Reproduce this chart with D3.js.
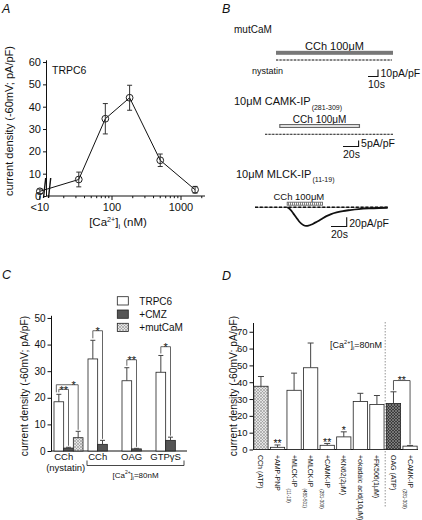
<!DOCTYPE html>
<html><head><meta charset="utf-8">
<script src="https://cdn.jsdelivr.net/npm/d3@7/dist/d3.min.js"></script>
<style>
html,body{margin:0;padding:0;background:#fff;}
svg{display:block;}
text{font-family:"Liberation Sans",Arial,Helvetica,sans-serif;fill:#111;}
</style></head><body>
<svg id="fig" width="422" height="520" viewBox="0 0 422 520"></svg>
<script>
// ================= DATA =================
// Panel A : current density vs [Ca2+]i
const caTickValues = [9, 100, 1000];
const caTickLabels = ["<10", "100", "1000"];
const caConc    = [9, 33, 80, 180, 500, 1600];
const caCurrent = [2.1, 7.4, 34.6, 44.0, 16.0, 2.8];
const caSEM     = [1.0, 3.3, 6.8, 5.6, 2.8, 1.5];
const aYTicks   = [0, 10, 20, 30, 40, 50, 60];

// Panel B : example traces (time in s, current in pA/pF)
const mutCaMTime = [0, 116];
const mutCaMCurrent = [0, 0];
const mutCaMCCh = [0, 117];
const camkTime = [0, 164];
const camkCurrent = [0, 0];
const camkCCh = [19, 121];
const mlckBaselineTime = [0, 169];
const mlckTime = [41,44,47,50,53,56,59,62,65,68,72,76,80,85,91,97,104,112,121,132,145,158,169];
const mlckCurrent = [0,-3,-9,-16,-23,-30,-35,-38.5,-40,-39.5,-37,-33.5,-30,-25,-19,-14.5,-11,-8,-6,-4,-2.5,-1.5,-1];
const mlckCCh = [41, 86];

// Panel C
const cGroups = ["CCh", "CCh", "OAG", "GTPγS"];
const cSeries = ["TRPC6", "+CMZ", "+mutCaM"];
const cTRPC6    = [18.5, 34.6, 26.4, 29.6];
const cTRPC6Err = [2.8, 7.0, 4.9, 6.3];
const cCMZ      = [1.1, 2.5, 0.8, 4.0];
const cCMZErr   = [0.3, 1.5, 0.2, 1.2];
const cMutCaM   = [5.0, null, null, null];
const cMutCaMErr= [2.4, null, null, null];
const cYTicks   = [0, 10, 20, 30, 40, 50];
const cSigGroup = [0, 0, 1, 2, 3];
const cSigFrom  = [0, 0, 0, 0, 0];
const cSigTo    = [1, 2, 1, 1, 1];
const cSigLabel = ["**", "*", "*", "**", "*"];
const cSigLevel = [23.2, 24.9, 45.2, 34.3, 39.2];

// Panel D
const dLabels = ["CCh (ATP)","+AMP-PNP","+MLCK-IP","+MLCK-IP","+CAMK-IP","+KN62(2μM)","+okadaic acid(10μM)","+FK506(1μM)","OAG (ATP)","+CAMK-IP"];
const dSubs   = ["","","(11-19)","(480-501)","(281-309)","","","","","(281-309)"];
const dValues = [37.6, 1.3, 35.2, 48.6, 2.5, 7.5, 28.5, 26.8, 27.4, 2.0];
const dErr    = [5.8, 1.4, 10.2, 14.7, 1.1, 3.0, 4.9, 5.3, 6.9, 0.4];
const dStars  = ["", "**", "", "", "**", "*", "", "", "", ""];
const dYTicks = [0, 10, 20, 30, 40, 50, 60, 70];
const dSigFrom = [8], dSigTo = [9], dSigLabel = ["**"], dSigLevel = [41];

// ================= DRAW =================
const FF = '"Liberation Sans", Arial, Helvetica, sans-serif';
const svg = d3.select("#fig");
const defs = svg.append("defs");
function crossHatch(id, bg, fg, s, w) {
  const p = defs.append("pattern").attr("id", id).attr("patternUnits", "userSpaceOnUse")
    .attr("width", s).attr("height", s);
  p.append("rect").attr("width", s).attr("height", s).attr("fill", bg);
  p.append("path").attr("d", `M0,${s} L${s},0 M${-s/2},${s/2} L${s/2},${-s/2} M${s/2},${s*1.5} L${s*1.5},${s/2}`)
    .attr("stroke", fg).attr("stroke-width", w);
  p.append("path").attr("d", `M0,0 L${s},${s} M${-s/2},${s/2} L${s/2},${s*1.5} M${s/2},${-s/2} L${s*1.5},${s/2}`)
    .attr("stroke", fg).attr("stroke-width", w);
}
crossHatch("hLight", "#e4e4e4", "#8c8c8c", 3, 0.55);
crossHatch("hDark", "#3c3c3c", "#a0a0a0", 3, 0.55);
const vp = defs.append("pattern").attr("id", "vHatch").attr("patternUnits", "userSpaceOnUse").attr("width", 2).attr("height", 4);
vp.append("rect").attr("width", 2).attr("height", 4).attr("fill", "#fff");
vp.append("line").attr("x1", 0.5).attr("x2", 0.5).attr("y1", 0).attr("y2", 4).attr("stroke", "#777").attr("stroke-width", 0.9);

function panelLetter(t, x, y) {
  svg.append("text").attr("x", x).attr("y", y).attr("font-size", 12.5).attr("font-style", "italic").text(t);
}
panelLetter("A", 2, 13); panelLetter("B", 222, 13); panelLetter("C", 2, 279); panelLetter("D", 222, 280);

function styleAxis(g, fs) {
  g.attr("font-family", FF).attr("font-size", fs);
  g.selectAll("path,line").attr("stroke", "#111").attr("stroke-width", 1);
  g.selectAll("text").attr("fill", "#111");
}
function caLabel(parent, x, y, fs, suffix) {
  const t = parent.append("text").attr("x", x).attr("y", y).attr("font-size", fs).attr("text-anchor", "middle");
  t.append("tspan").text("[Ca");
  t.append("tspan").attr("dy", -fs * 0.38).attr("font-size", fs * 0.62).text("2+");
  t.append("tspan").attr("dy", fs * 0.38).text("]");
  t.append("tspan").attr("dy", fs * 0.25).attr("font-size", fs * 0.62).text("i");
  t.append("tspan").attr("dy", -fs * 0.25).text(suffix);
  return t;
}
function yTitle(parent, x, y, fs) {
  parent.append("text").attr("transform", `translate(${x},${y}) rotate(-90)`)
    .attr("text-anchor", "middle").attr("dy", "0.35em").attr("font-size", fs)
    .text("current density (-60mV; pA/pF)");
}

// ---------- Panel A ----------
const gA = svg.append("g");
const xA = d3.scaleLog().domain([100, 1000]).range([112, 181]);
const yA = d3.scaleLinear().domain([0, 61]).range([196, 59.8]);
gA.append("g").attr("transform", "translate(46,0)")
  .call(d3.axisLeft(yA).tickValues(aYTicks).tickSize(3).tickPadding(2).tickSizeOuter(0))
  .call(styleAxis, 11);
const y0A = yA(0);
gA.append("line").attr("x1", 46).attr("x2", 205).attr("y1", y0A).attr("y2", y0A).attr("stroke", "#111");
const minorA = d3.scaleLog().domain([20, 2000]).ticks().filter(v => !caTickValues.includes(v));
gA.selectAll(".mn").data(minorA).join("line")
  .attr("x1", d => xA(d)).attr("x2", d => xA(d)).attr("y1", y0A).attr("y2", y0A + 2.2).attr("stroke", "#111");
gA.selectAll(".mj").data(caTickValues).join("line")
  .attr("x1", d => xA(d)).attr("x2", d => xA(d)).attr("y1", y0A).attr("y2", y0A + 4).attr("stroke", "#111");
gA.selectAll(".xl").data(caTickValues).join("text")
  .attr("x", d => xA(d)).attr("y", y0A + 14.5).attr("text-anchor", "middle").attr("font-size", 11)
  .text((d, i) => caTickLabels[i]);
// axis break marks
[43.5, 48.5].forEach(bx => gA.append("line").attr("x1", bx).attr("y1", 198).attr("x2", bx + 2.2).attr("y2", 178)
  .attr("stroke", "#111").attr("stroke-width", 1.4));
caLabel(gA, 118, 226, 11.5, " (nM)");
yTitle(gA, 9, 121, 11);
gA.append("text").attr("x", 52).attr("y", 74).attr("font-size", 10.5).text("TRPC6");
const ptsA = caConc.map((c, i) => ({ c, v: caCurrent[i], s: caSEM[i] }));
gA.append("path").datum(ptsA).attr("fill", "none").attr("stroke", "#111").attr("stroke-width", 1)
  .attr("d", d3.line().x(d => xA(d.c)).y(d => yA(d.v)));
const eA = gA.selectAll(".eb").data(ptsA).join("g");
eA.append("line").attr("x1", d => xA(d.c)).attr("x2", d => xA(d.c)).attr("y1", d => yA(d.v - d.s)).attr("y2", d => yA(d.v + d.s)).attr("stroke", "#333");
eA.append("line").attr("x1", d => xA(d.c) - 2.5).attr("x2", d => xA(d.c) + 2.5).attr("y1", d => yA(d.v + d.s)).attr("y2", d => yA(d.v + d.s)).attr("stroke", "#333");
eA.append("line").attr("x1", d => xA(d.c) - 2.5).attr("x2", d => xA(d.c) + 2.5).attr("y1", d => yA(d.v - d.s)).attr("y2", d => yA(d.v - d.s)).attr("stroke", "#333");
eA.append("circle").attr("cx", d => xA(d.c)).attr("cy", d => yA(d.v)).attr("r", 3.4)
  .attr("fill", "none").attr("stroke", "#222").attr("stroke-width", 1);

// ---------- Panel B ----------
const gB = svg.append("g");
function scaleBar(g, x, y, w, h, vLabel, hLabel) {
  g.append("path").attr("d", `M${x},${y} L${x + w},${y} L${x + w},${y - h}`).attr("fill", "none").attr("stroke", "#111").attr("stroke-width", 1.1);
  g.append("text").attr("x", x + w + 2.5).attr("y", y + 0.5).attr("font-size", 10.5).text(vLabel);
  g.append("text").attr("x", x).attr("y", y + 11.5).attr("font-size", 10.5).text(hLabel);
}
function cchText(g, x, y, fs) {
  g.append("text").attr("x", x).attr("y", y).attr("font-size", fs).attr("text-anchor", "middle").text("CCh 100μM");
}
function baselineTrace(g, xs, ys, tArr, iArr, dark) {
  const pts = tArr.map((t, i) => [xs(t), ys(iArr[i])]);
  g.append("path").attr("d", d3.line()(pts)).attr("fill", "none").attr("stroke", dark ? "#777" : "#aaa").attr("stroke-width", 1);
  g.append("path").attr("d", d3.line()(pts)).attr("fill", "none").attr("stroke", dark ? "#111" : "#333")
    .attr("stroke-width", dark ? 1.4 : 1).attr("stroke-dasharray", dark ? "3,1.8" : "2,1.6");
}
// B1 mutCaM
const xB1 = d3.scaleLinear().domain([0, 116]).range([276, 392]);
const yB1 = d3.scaleLinear().domain([0, 10]).range([60, 53]);
gB.append("text").attr("x", 234).attr("y", 33).attr("font-size", 10).text("mutCaM");
cchText(gB, d3.mean(mutCaMCCh.map(xB1)), 50, 11);
gB.append("rect").attr("x", xB1(mutCaMCCh[0])).attr("width", xB1(mutCaMCCh[1]) - xB1(mutCaMCCh[0]))
  .attr("y", 50.8).attr("height", 4).attr("fill", "#777");
baselineTrace(gB, xB1, yB1, mutCaMTime, mutCaMCurrent, false);
gB.append("text").attr("x", 252).attr("y", 74).attr("font-size", 9).text("nystatin");
scaleBar(gB, 368, 76.5, xB1(10) - xB1(0), yB1(0) - yB1(10), "10pA/pF", "10s");

// B2 CAMK-IP
const xB2 = d3.scaleLinear().domain([0, 164]).range([265, 393]);
const yB2 = d3.scaleLinear().domain([0, 5]).range([134.3, 128.3]);
const tB2 = gB.append("text").attr("x", 234).attr("y", 105).attr("font-size", 11);
tB2.append("tspan").text("10μM CAMK-IP");
tB2.append("tspan").attr("dy", 4.5).attr("dx", 1).attr("font-size", 7).text("(281-309)");
cchText(gB, d3.mean(camkCCh.map(xB2)), 122.5, 10);
gB.append("rect").attr("x", xB2(camkCCh[0])).attr("width", xB2(camkCCh[1]) - xB2(camkCCh[0]))
  .attr("y", 124.6).attr("height", 2.8).attr("fill", "#fff").attr("stroke", "#666").attr("stroke-width", 1.2);
baselineTrace(gB, xB2, yB2, camkTime, camkCurrent, false);
scaleBar(gB, 343, 146.5, xB2(20) - xB2(0), yB2(0) - yB2(5), "5pA/pF", "20s");

// B3 MLCK-IP
const xB3 = d3.scaleLinear().domain([0, 169]).range([255, 387.7]);
const yB3 = d3.scaleLinear().domain([0, -40]).range([207.3, 225.9]);
const tB3 = gB.append("text").attr("x", 236).attr("y", 177.5).attr("font-size", 11);
tB3.append("tspan").text("10μM MLCK-IP");
tB3.append("tspan").attr("dy", 4.5).attr("dx", 1).attr("font-size", 7).text("(11-19)");
cchText(gB, d3.mean(mlckCCh.map(xB3)) - 6, 200, 9.5);
gB.append("rect").attr("x", xB3(mlckCCh[0])).attr("width", xB3(mlckCCh[1]) - xB3(mlckCCh[0]))
  .attr("y", 202.2).attr("height", 3).attr("fill", "url(#vHatch)").attr("stroke", "#666").attr("stroke-width", 0.9);
baselineTrace(gB, xB3, yB3, mlckBaselineTime, [0, 0], true);
gB.append("path").datum(mlckTime.map((t, i) => [t, mlckCurrent[i]]))
  .attr("fill", "none").attr("stroke", "#111").attr("stroke-width", 1.8)
  .attr("d", d3.line().x(d => xB3(d[0])).y(d => yB3(d[1])).curve(d3.curveCatmullRom));
scaleBar(gB, 331, 226.5, xB3(20) - xB3(0), yB3(-20) - yB3(0), "20pA/pF", "20s");

// ---------- Panel C ----------
const gC = svg.append("g");
const yC = d3.scaleLinear().domain([0, 51]).range([451, 315.3]);
const x0C = d3.scaleBand().domain(d3.range(cGroups.length)).range([51, 187]);
const x1C = d3.scaleBand().domain(cSeries).range([3, 32]);
gC.append("g").attr("transform", "translate(51,0)")
  .call(d3.axisLeft(yC).tickValues(cYTicks).tickSize(3.5).tickPadding(2).tickSizeOuter(0))
  .call(styleAxis, 10);
gC.append("line").attr("x1", 51).attr("x2", 187).attr("y1", yC(0)).attr("y2", yC(0)).attr("stroke", "#111");
yTitle(gC, 24, 386, 10.3);
const cFill = { "TRPC6": "#fff", "+CMZ": "#555", "+mutCaM": "url(#hLight)" };
const barsC = [];
cGroups.forEach((g, gi) => {
  [[cTRPC6, cTRPC6Err], [cCMZ, cCMZErr], [cMutCaM, cMutCaMErr]].forEach((arr, si) => {
    const v = arr[0][gi];
    if (v === null) return;
    barsC.push({ gi, si, s: cSeries[si], v, e: arr[1][gi], x: x0C(gi) + x1C(cSeries[si]), w: x1C.bandwidth() });
  });
});
gC.selectAll(".bc").data(barsC).join("rect")
  .attr("x", d => d.x).attr("width", d => d.w).attr("y", d => yC(d.v)).attr("height", d => yC(0) - yC(d.v))
  .attr("fill", d => cFill[d.s]).attr("stroke", "#222").attr("stroke-width", 0.8);
const ebC = gC.selectAll(".ec").data(barsC).join("g");
ebC.append("line").attr("x1", d => d.x + d.w / 2).attr("x2", d => d.x + d.w / 2).attr("y1", d => yC(d.v)).attr("y2", d => yC(d.v + d.e)).attr("stroke", "#444");
ebC.append("line").attr("x1", d => d.x + d.w / 2 - 2.5).attr("x2", d => d.x + d.w / 2 + 2.5).attr("y1", d => yC(d.v + d.e)).attr("y2", d => yC(d.v + d.e)).attr("stroke", "#444");
function findBar(gi, si) { return barsC.find(b => b.gi === gi && b.si === si); }
cSigGroup.forEach((gi, k) => {
  const wide = cSigTo[k] - cSigFrom[k] > 1;
  const a = findBar(gi, cSigFrom[k]), b = findBar(gi, cSigTo[k]);
  const xa = a.x + a.w / 2 - (wide ? 2.5 : 0), xb = b.x + b.w / 2;
  const yl = yC(cSigLevel[k]);
  gC.append("path").attr("d", `M${xa},${yC(a.v + a.e) - 2} L${xa},${yl} L${xb},${yl} L${xb},${yC(b.v + b.e) - 1.5}`)
    .attr("fill", "none").attr("stroke", "#555").attr("stroke-width", 0.9);
  gC.append("text").attr("x", wide ? xb - 4.5 : (xa + xb) / 2).attr("y", yl + (wide ? 3.8 : 4.5))
    .attr("text-anchor", "middle").attr("font-size", 11).text(cSigLabel[k]);
});
// group labels
cGroups.forEach((g, gi) => {
  const cx = x0C(gi) + x1C(cSeries[1]);
  gC.append("text").attr("x", cx).attr("y", 460).attr("text-anchor", "middle").attr("font-size", 9.5).text(g);
});
gC.append("text").attr("x", x0C(0) + x1C(cSeries[1]) + 2).attr("y", 470.5).attr("text-anchor", "middle").attr("font-size", 9.5).text("(nystatin)");
const brL = x0C(1) + 2, brR = x0C(3) + 31;
gC.append("path").attr("d", `M${brL},460.5 L${brL},465.5 L${brR},465.5 L${brR},460.5`).attr("fill", "none").attr("stroke", "#333").attr("stroke-width", 0.9);
caLabel(gC, (brL + brR) / 2, 477.5, 8, "=80nM");
// legend
cSeries.forEach((s, i) => {
  const ly = 296.7 + i * 13.3;
  gC.append("rect").attr("x", 117.3).attr("y", ly).attr("width", 11).attr("height", 8.3)
    .attr("fill", cFill[s]).attr("stroke", "#222").attr("stroke-width", 0.8);
  gC.append("text").attr("x", 139.3).attr("y", ly + 7.8).attr("font-size", 10).text(s);
});

// ---------- Panel D ----------
const gD = svg.append("g");
const yD = d3.scaleLinear().domain([0, 75.5]).range([449.5, 322.5]);
const xD = d3.scaleBand().domain(d3.range(dLabels.length)).range([253, 418]).paddingInner(0.14).paddingOuter(0.05);
gD.append("g").attr("transform", "translate(253,0)")
  .call(d3.axisLeft(yD).tickValues(dYTicks).tickSize(3.5).tickPadding(2).tickSizeOuter(0))
  .call(styleAxis, 9.5);
gD.append("line").attr("x1", 253).attr("x2", 418).attr("y1", yD(0)).attr("y2", yD(0)).attr("stroke", "#111");
yTitle(gD, 233, 386, 10.3);
const bw = xD.bandwidth();
const sepX = (xD(7) + bw + xD(8)) / 2;
gD.append("line").attr("x1", sepX).attr("x2", sepX).attr("y1", 322).attr("y2", 507)
  .attr("stroke", "#888").attr("stroke-width", 0.9).attr("stroke-dasharray", "1.5,1.5");
const dFill = (i) => i === 0 ? "url(#hLight)" : (i === 8 ? "url(#hDark)" : "#fff");
gD.selectAll(".bd").data(dValues).join("rect")
  .attr("x", (d, i) => xD(i)).attr("width", bw).attr("y", d => yD(d)).attr("height", d => yD(0) - yD(d))
  .attr("fill", (d, i) => dFill(i)).attr("stroke", "#222").attr("stroke-width", 0.8);
const ebD = gD.selectAll(".ed").data(dValues).join("g");
ebD.append("line").attr("x1", (d, i) => xD(i) + bw / 2).attr("x2", (d, i) => xD(i) + bw / 2)
  .attr("y1", d => yD(d)).attr("y2", (d, i) => yD(d + dErr[i])).attr("stroke", "#444");
ebD.append("line").attr("x1", (d, i) => xD(i) + bw / 2 - 3).attr("x2", (d, i) => xD(i) + bw / 2 + 3)
  .attr("y1", (d, i) => yD(d + dErr[i])).attr("y2", (d, i) => yD(d + dErr[i])).attr("stroke", "#444");
gD.selectAll(".sd").data(dStars).join("text")
  .attr("x", (d, i) => xD(i) + bw / 2).attr("y", (d, i) => yD(dValues[i] + dErr[i]) + 2.5)
  .attr("text-anchor", "middle").attr("font-size", 10.5).text(d => d);
dSigFrom.forEach((a, k) => {
  const b = dSigTo[k];
  const xa = xD(a) + bw / 2, xb = xD(b) + bw / 2, yl = yD(dSigLevel[k]);
  gD.append("path").attr("d", `M${xa},${yD(dValues[a] + dErr[a]) - 1.5} L${xa},${yl} L${xb},${yl} L${xb},${yD(dValues[b] + dErr[b]) - 1}`)
    .attr("fill", "none").attr("stroke", "#444").attr("stroke-width", 0.9);
  gD.append("text").attr("x", (xa + xb) / 2).attr("y", yl + 3.5).attr("text-anchor", "middle").attr("font-size", 10.5).text(dSigLabel[k]);
});
caLabel(gD, 356, 347.5, 9, "=80nM");
// x tick labels (rotated)
dLabels.forEach((lab, i) => {
  const t = gD.append("text").attr("transform", `translate(${xD(i) + bw / 2},455) rotate(90)`)
    .attr("dy", "0.35em").attr("font-size", 7);
  t.append("tspan").text(lab);
  if (dSubs[i]) t.append("tspan").attr("dy", 5).attr("dx", 1).attr("font-size", 4.5).text(dSubs[i]);
});
</script>
</body></html>
